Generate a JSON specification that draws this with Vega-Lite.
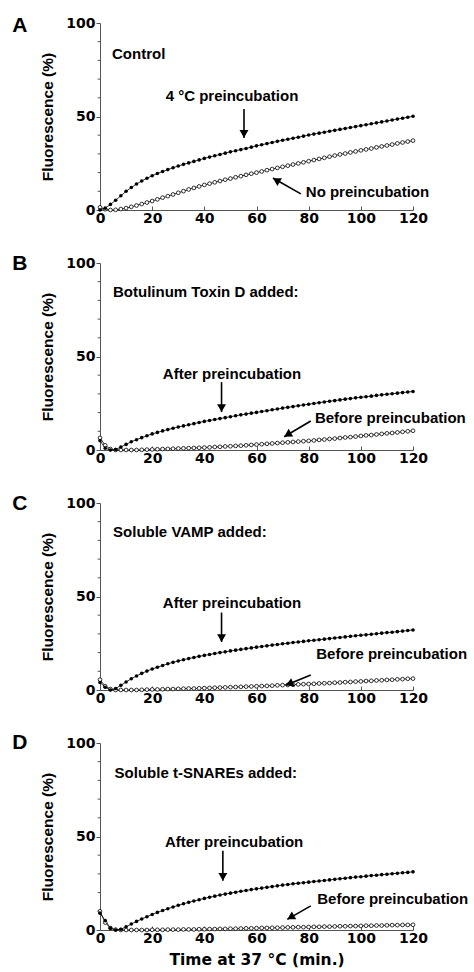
{
"$schema": "https://vega.github.io/schema/vega-lite/v6.json",
"background": "white",
"padding": {"left": 12, "top": 14, "right": 2, "bottom": 0},
"datasets": {
"series": [
{"p":"A","s":"f","x":0,"y":0},{"p":"A","s":"f","x":2,"y":1},{"p":"A","s":"f","x":4,"y":3},{"p":"A","s":"f","x":6,"y":5.2},{"p":"A","s":"f","x":8,"y":7.6},{"p":"A","s":"f","x":10,"y":10},{"p":"A","s":"f","x":12,"y":12},{"p":"A","s":"f","x":14,"y":13.9},{"p":"A","s":"f","x":16,"y":15.5},{"p":"A","s":"f","x":18,"y":17},{"p":"A","s":"f","x":20,"y":18.3},{"p":"A","s":"f","x":22,"y":19.5},{"p":"A","s":"f","x":24,"y":20.6},{"p":"A","s":"f","x":26,"y":21.6},{"p":"A","s":"f","x":28,"y":22.6},{"p":"A","s":"f","x":30,"y":23.5},{"p":"A","s":"f","x":32,"y":24.4},{"p":"A","s":"f","x":34,"y":25.2},{"p":"A","s":"f","x":36,"y":26},{"p":"A","s":"f","x":38,"y":26.8},{"p":"A","s":"f","x":40,"y":27.6},{"p":"A","s":"f","x":42,"y":28.3},{"p":"A","s":"f","x":44,"y":29},{"p":"A","s":"f","x":46,"y":29.7},{"p":"A","s":"f","x":48,"y":30.4},{"p":"A","s":"f","x":50,"y":31.1},{"p":"A","s":"f","x":52,"y":31.7},{"p":"A","s":"f","x":54,"y":32.3},{"p":"A","s":"f","x":56,"y":32.9},{"p":"A","s":"f","x":58,"y":33.6},{"p":"A","s":"f","x":60,"y":34.3},{"p":"A","s":"f","x":62,"y":34.9},{"p":"A","s":"f","x":64,"y":35.5},{"p":"A","s":"f","x":66,"y":36.1},{"p":"A","s":"f","x":68,"y":36.7},{"p":"A","s":"f","x":70,"y":37.3},{"p":"A","s":"f","x":72,"y":37.8},{"p":"A","s":"f","x":74,"y":38.4},{"p":"A","s":"f","x":76,"y":38.9},{"p":"A","s":"f","x":78,"y":39.5},{"p":"A","s":"f","x":80,"y":40.1},{"p":"A","s":"f","x":82,"y":40.6},{"p":"A","s":"f","x":84,"y":41.1},{"p":"A","s":"f","x":86,"y":41.6},{"p":"A","s":"f","x":88,"y":42.1},{"p":"A","s":"f","x":90,"y":42.6},{"p":"A","s":"f","x":92,"y":43.1},{"p":"A","s":"f","x":94,"y":43.6},{"p":"A","s":"f","x":96,"y":44.1},{"p":"A","s":"f","x":98,"y":44.6},{"p":"A","s":"f","x":100,"y":45.1},{"p":"A","s":"f","x":102,"y":45.6},{"p":"A","s":"f","x":104,"y":46.1},{"p":"A","s":"f","x":106,"y":46.6},{"p":"A","s":"f","x":108,"y":47.1},{"p":"A","s":"f","x":110,"y":47.6},{"p":"A","s":"f","x":112,"y":48.1},{"p":"A","s":"f","x":114,"y":48.6},{"p":"A","s":"f","x":116,"y":49.1},{"p":"A","s":"f","x":118,"y":49.6},{"p":"A","s":"f","x":120,"y":50.1},
{"p":"A","s":"o","x":0,"y":1.4},{"p":"A","s":"o","x":2,"y":0.4},{"p":"A","s":"o","x":4,"y":0},{"p":"A","s":"o","x":6,"y":0.1},{"p":"A","s":"o","x":8,"y":0.5},{"p":"A","s":"o","x":10,"y":1},{"p":"A","s":"o","x":12,"y":1.7},{"p":"A","s":"o","x":14,"y":2.4},{"p":"A","s":"o","x":16,"y":3.2},{"p":"A","s":"o","x":18,"y":4},{"p":"A","s":"o","x":20,"y":4.8},{"p":"A","s":"o","x":22,"y":5.7},{"p":"A","s":"o","x":24,"y":6.6},{"p":"A","s":"o","x":26,"y":7.4},{"p":"A","s":"o","x":28,"y":8.3},{"p":"A","s":"o","x":30,"y":9.2},{"p":"A","s":"o","x":32,"y":10.1},{"p":"A","s":"o","x":34,"y":11},{"p":"A","s":"o","x":36,"y":11.8},{"p":"A","s":"o","x":38,"y":12.6},{"p":"A","s":"o","x":40,"y":13.4},{"p":"A","s":"o","x":42,"y":14.1},{"p":"A","s":"o","x":44,"y":14.8},{"p":"A","s":"o","x":46,"y":15.5},{"p":"A","s":"o","x":48,"y":16.2},{"p":"A","s":"o","x":50,"y":16.8},{"p":"A","s":"o","x":52,"y":17.5},{"p":"A","s":"o","x":54,"y":18.1},{"p":"A","s":"o","x":56,"y":18.8},{"p":"A","s":"o","x":58,"y":19.4},{"p":"A","s":"o","x":60,"y":20},{"p":"A","s":"o","x":62,"y":20.6},{"p":"A","s":"o","x":64,"y":21.3},{"p":"A","s":"o","x":66,"y":21.9},{"p":"A","s":"o","x":68,"y":22.5},{"p":"A","s":"o","x":70,"y":23.1},{"p":"A","s":"o","x":72,"y":23.7},{"p":"A","s":"o","x":74,"y":24.3},{"p":"A","s":"o","x":76,"y":24.9},{"p":"A","s":"o","x":78,"y":25.5},{"p":"A","s":"o","x":80,"y":26.1},{"p":"A","s":"o","x":82,"y":26.7},{"p":"A","s":"o","x":84,"y":27.3},{"p":"A","s":"o","x":86,"y":27.9},{"p":"A","s":"o","x":88,"y":28.5},{"p":"A","s":"o","x":90,"y":29.1},{"p":"A","s":"o","x":92,"y":29.7},{"p":"A","s":"o","x":94,"y":30.2},{"p":"A","s":"o","x":96,"y":30.8},{"p":"A","s":"o","x":98,"y":31.3},{"p":"A","s":"o","x":100,"y":31.9},{"p":"A","s":"o","x":102,"y":32.4},{"p":"A","s":"o","x":104,"y":32.9},{"p":"A","s":"o","x":106,"y":33.5},{"p":"A","s":"o","x":108,"y":34},{"p":"A","s":"o","x":110,"y":34.5},{"p":"A","s":"o","x":112,"y":35},{"p":"A","s":"o","x":114,"y":35.6},{"p":"A","s":"o","x":116,"y":36.1},{"p":"A","s":"o","x":118,"y":36.6},{"p":"A","s":"o","x":120,"y":37.1},
{"p":"B","s":"f","x":0,"y":5},{"p":"B","s":"f","x":2,"y":1},{"p":"B","s":"f","x":4,"y":0},{"p":"B","s":"f","x":6,"y":0.3},{"p":"B","s":"f","x":8,"y":1.6},{"p":"B","s":"f","x":10,"y":3},{"p":"B","s":"f","x":12,"y":4.4},{"p":"B","s":"f","x":14,"y":5.5},{"p":"B","s":"f","x":16,"y":6.6},{"p":"B","s":"f","x":18,"y":7.6},{"p":"B","s":"f","x":20,"y":8.6},{"p":"B","s":"f","x":22,"y":9.4},{"p":"B","s":"f","x":24,"y":10.2},{"p":"B","s":"f","x":26,"y":10.9},{"p":"B","s":"f","x":28,"y":11.6},{"p":"B","s":"f","x":30,"y":12.3},{"p":"B","s":"f","x":32,"y":12.9},{"p":"B","s":"f","x":34,"y":13.5},{"p":"B","s":"f","x":36,"y":14.1},{"p":"B","s":"f","x":38,"y":14.7},{"p":"B","s":"f","x":40,"y":15.3},{"p":"B","s":"f","x":42,"y":15.8},{"p":"B","s":"f","x":44,"y":16.3},{"p":"B","s":"f","x":46,"y":16.8},{"p":"B","s":"f","x":48,"y":17.3},{"p":"B","s":"f","x":50,"y":17.8},{"p":"B","s":"f","x":52,"y":18.3},{"p":"B","s":"f","x":54,"y":18.8},{"p":"B","s":"f","x":56,"y":19.2},{"p":"B","s":"f","x":58,"y":19.7},{"p":"B","s":"f","x":60,"y":20.1},{"p":"B","s":"f","x":62,"y":20.6},{"p":"B","s":"f","x":64,"y":21},{"p":"B","s":"f","x":66,"y":21.5},{"p":"B","s":"f","x":68,"y":21.9},{"p":"B","s":"f","x":70,"y":22.4},{"p":"B","s":"f","x":72,"y":22.8},{"p":"B","s":"f","x":74,"y":23.2},{"p":"B","s":"f","x":76,"y":23.7},{"p":"B","s":"f","x":78,"y":24.1},{"p":"B","s":"f","x":80,"y":24.5},{"p":"B","s":"f","x":82,"y":24.9},{"p":"B","s":"f","x":84,"y":25.3},{"p":"B","s":"f","x":86,"y":25.7},{"p":"B","s":"f","x":88,"y":26.1},{"p":"B","s":"f","x":90,"y":26.4},{"p":"B","s":"f","x":92,"y":26.8},{"p":"B","s":"f","x":94,"y":27.2},{"p":"B","s":"f","x":96,"y":27.5},{"p":"B","s":"f","x":98,"y":27.9},{"p":"B","s":"f","x":100,"y":28.2},{"p":"B","s":"f","x":102,"y":28.5},{"p":"B","s":"f","x":104,"y":28.8},{"p":"B","s":"f","x":106,"y":29.2},{"p":"B","s":"f","x":108,"y":29.5},{"p":"B","s":"f","x":110,"y":29.8},{"p":"B","s":"f","x":112,"y":30.1},{"p":"B","s":"f","x":114,"y":30.4},{"p":"B","s":"f","x":116,"y":30.7},{"p":"B","s":"f","x":118,"y":31},{"p":"B","s":"f","x":120,"y":31.3},
{"p":"B","s":"o","x":0,"y":6.5},{"p":"B","s":"o","x":2,"y":2.5},{"p":"B","s":"o","x":4,"y":0.5},{"p":"B","s":"o","x":6,"y":0},{"p":"B","s":"o","x":8,"y":0},{"p":"B","s":"o","x":10,"y":0},{"p":"B","s":"o","x":12,"y":0},{"p":"B","s":"o","x":14,"y":0},{"p":"B","s":"o","x":16,"y":0.1},{"p":"B","s":"o","x":18,"y":0.2},{"p":"B","s":"o","x":20,"y":0.3},{"p":"B","s":"o","x":22,"y":0.4},{"p":"B","s":"o","x":24,"y":0.5},{"p":"B","s":"o","x":26,"y":0.6},{"p":"B","s":"o","x":28,"y":0.7},{"p":"B","s":"o","x":30,"y":0.8},{"p":"B","s":"o","x":32,"y":0.9},{"p":"B","s":"o","x":34,"y":1},{"p":"B","s":"o","x":36,"y":1.1},{"p":"B","s":"o","x":38,"y":1.2},{"p":"B","s":"o","x":40,"y":1.3},{"p":"B","s":"o","x":42,"y":1.4},{"p":"B","s":"o","x":44,"y":1.6},{"p":"B","s":"o","x":46,"y":1.7},{"p":"B","s":"o","x":48,"y":1.9},{"p":"B","s":"o","x":50,"y":2},{"p":"B","s":"o","x":52,"y":2.2},{"p":"B","s":"o","x":54,"y":2.3},{"p":"B","s":"o","x":56,"y":2.5},{"p":"B","s":"o","x":58,"y":2.7},{"p":"B","s":"o","x":60,"y":2.9},{"p":"B","s":"o","x":62,"y":3.1},{"p":"B","s":"o","x":64,"y":3.3},{"p":"B","s":"o","x":66,"y":3.5},{"p":"B","s":"o","x":68,"y":3.7},{"p":"B","s":"o","x":70,"y":3.9},{"p":"B","s":"o","x":72,"y":4.1},{"p":"B","s":"o","x":74,"y":4.3},{"p":"B","s":"o","x":76,"y":4.5},{"p":"B","s":"o","x":78,"y":4.7},{"p":"B","s":"o","x":80,"y":4.9},{"p":"B","s":"o","x":82,"y":5.1},{"p":"B","s":"o","x":84,"y":5.4},{"p":"B","s":"o","x":86,"y":5.6},{"p":"B","s":"o","x":88,"y":5.9},{"p":"B","s":"o","x":90,"y":6.1},{"p":"B","s":"o","x":92,"y":6.4},{"p":"B","s":"o","x":94,"y":6.7},{"p":"B","s":"o","x":96,"y":6.9},{"p":"B","s":"o","x":98,"y":7.2},{"p":"B","s":"o","x":100,"y":7.5},{"p":"B","s":"o","x":102,"y":7.8},{"p":"B","s":"o","x":104,"y":8},{"p":"B","s":"o","x":106,"y":8.3},{"p":"B","s":"o","x":108,"y":8.6},{"p":"B","s":"o","x":110,"y":8.9},{"p":"B","s":"o","x":112,"y":9.1},{"p":"B","s":"o","x":114,"y":9.4},{"p":"B","s":"o","x":116,"y":9.7},{"p":"B","s":"o","x":118,"y":10},{"p":"B","s":"o","x":120,"y":10.3},
{"p":"C","s":"f","x":0,"y":4},{"p":"C","s":"f","x":2,"y":1.5},{"p":"C","s":"f","x":4,"y":0},{"p":"C","s":"f","x":6,"y":0.8},{"p":"C","s":"f","x":8,"y":2.5},{"p":"C","s":"f","x":10,"y":4.3},{"p":"C","s":"f","x":12,"y":6},{"p":"C","s":"f","x":14,"y":7.5},{"p":"C","s":"f","x":16,"y":8.9},{"p":"C","s":"f","x":18,"y":10.1},{"p":"C","s":"f","x":20,"y":11.2},{"p":"C","s":"f","x":22,"y":12.2},{"p":"C","s":"f","x":24,"y":13.1},{"p":"C","s":"f","x":26,"y":14},{"p":"C","s":"f","x":28,"y":14.8},{"p":"C","s":"f","x":30,"y":15.5},{"p":"C","s":"f","x":32,"y":16.2},{"p":"C","s":"f","x":34,"y":16.8},{"p":"C","s":"f","x":36,"y":17.4},{"p":"C","s":"f","x":38,"y":18},{"p":"C","s":"f","x":40,"y":18.5},{"p":"C","s":"f","x":42,"y":19},{"p":"C","s":"f","x":44,"y":19.5},{"p":"C","s":"f","x":46,"y":20},{"p":"C","s":"f","x":48,"y":20.4},{"p":"C","s":"f","x":50,"y":20.9},{"p":"C","s":"f","x":52,"y":21.3},{"p":"C","s":"f","x":54,"y":21.7},{"p":"C","s":"f","x":56,"y":22.1},{"p":"C","s":"f","x":58,"y":22.5},{"p":"C","s":"f","x":60,"y":22.9},{"p":"C","s":"f","x":62,"y":23.3},{"p":"C","s":"f","x":64,"y":23.6},{"p":"C","s":"f","x":66,"y":24},{"p":"C","s":"f","x":68,"y":24.3},{"p":"C","s":"f","x":70,"y":24.7},{"p":"C","s":"f","x":72,"y":25},{"p":"C","s":"f","x":74,"y":25.4},{"p":"C","s":"f","x":76,"y":25.7},{"p":"C","s":"f","x":78,"y":26},{"p":"C","s":"f","x":80,"y":26.3},{"p":"C","s":"f","x":82,"y":26.6},{"p":"C","s":"f","x":84,"y":26.9},{"p":"C","s":"f","x":86,"y":27.2},{"p":"C","s":"f","x":88,"y":27.5},{"p":"C","s":"f","x":90,"y":27.8},{"p":"C","s":"f","x":92,"y":28.1},{"p":"C","s":"f","x":94,"y":28.4},{"p":"C","s":"f","x":96,"y":28.7},{"p":"C","s":"f","x":98,"y":29},{"p":"C","s":"f","x":100,"y":29.3},{"p":"C","s":"f","x":102,"y":29.5},{"p":"C","s":"f","x":104,"y":29.8},{"p":"C","s":"f","x":106,"y":30.1},{"p":"C","s":"f","x":108,"y":30.4},{"p":"C","s":"f","x":110,"y":30.7},{"p":"C","s":"f","x":112,"y":30.9},{"p":"C","s":"f","x":114,"y":31.2},{"p":"C","s":"f","x":116,"y":31.5},{"p":"C","s":"f","x":118,"y":31.8},{"p":"C","s":"f","x":120,"y":32.1},
{"p":"C","s":"o","x":0,"y":5.5},{"p":"C","s":"o","x":2,"y":2},{"p":"C","s":"o","x":4,"y":0.5},{"p":"C","s":"o","x":6,"y":0},{"p":"C","s":"o","x":8,"y":0},{"p":"C","s":"o","x":10,"y":0},{"p":"C","s":"o","x":12,"y":0},{"p":"C","s":"o","x":14,"y":0},{"p":"C","s":"o","x":16,"y":0.1},{"p":"C","s":"o","x":18,"y":0.2},{"p":"C","s":"o","x":20,"y":0.3},{"p":"C","s":"o","x":22,"y":0.3},{"p":"C","s":"o","x":24,"y":0.4},{"p":"C","s":"o","x":26,"y":0.5},{"p":"C","s":"o","x":28,"y":0.5},{"p":"C","s":"o","x":30,"y":0.6},{"p":"C","s":"o","x":32,"y":0.7},{"p":"C","s":"o","x":34,"y":0.8},{"p":"C","s":"o","x":36,"y":0.8},{"p":"C","s":"o","x":38,"y":0.9},{"p":"C","s":"o","x":40,"y":1},{"p":"C","s":"o","x":42,"y":1.1},{"p":"C","s":"o","x":44,"y":1.2},{"p":"C","s":"o","x":46,"y":1.3},{"p":"C","s":"o","x":48,"y":1.4},{"p":"C","s":"o","x":50,"y":1.5},{"p":"C","s":"o","x":52,"y":1.6},{"p":"C","s":"o","x":54,"y":1.7},{"p":"C","s":"o","x":56,"y":1.8},{"p":"C","s":"o","x":58,"y":1.9},{"p":"C","s":"o","x":60,"y":2},{"p":"C","s":"o","x":62,"y":2.1},{"p":"C","s":"o","x":64,"y":2.2},{"p":"C","s":"o","x":66,"y":2.3},{"p":"C","s":"o","x":68,"y":2.5},{"p":"C","s":"o","x":70,"y":2.6},{"p":"C","s":"o","x":72,"y":2.7},{"p":"C","s":"o","x":74,"y":2.8},{"p":"C","s":"o","x":76,"y":3},{"p":"C","s":"o","x":78,"y":3.1},{"p":"C","s":"o","x":80,"y":3.2},{"p":"C","s":"o","x":82,"y":3.3},{"p":"C","s":"o","x":84,"y":3.5},{"p":"C","s":"o","x":86,"y":3.6},{"p":"C","s":"o","x":88,"y":3.7},{"p":"C","s":"o","x":90,"y":3.9},{"p":"C","s":"o","x":92,"y":4},{"p":"C","s":"o","x":94,"y":4.2},{"p":"C","s":"o","x":96,"y":4.3},{"p":"C","s":"o","x":98,"y":4.5},{"p":"C","s":"o","x":100,"y":4.6},{"p":"C","s":"o","x":102,"y":4.8},{"p":"C","s":"o","x":104,"y":4.9},{"p":"C","s":"o","x":106,"y":5.1},{"p":"C","s":"o","x":108,"y":5.2},{"p":"C","s":"o","x":110,"y":5.4},{"p":"C","s":"o","x":112,"y":5.5},{"p":"C","s":"o","x":114,"y":5.7},{"p":"C","s":"o","x":116,"y":5.8},{"p":"C","s":"o","x":118,"y":6},{"p":"C","s":"o","x":120,"y":6.1},
{"p":"D","s":"f","x":0,"y":9},{"p":"D","s":"f","x":2,"y":5},{"p":"D","s":"f","x":4,"y":1},{"p":"D","s":"f","x":6,"y":0},{"p":"D","s":"f","x":8,"y":0.4},{"p":"D","s":"f","x":10,"y":1.7},{"p":"D","s":"f","x":12,"y":3.2},{"p":"D","s":"f","x":14,"y":4.6},{"p":"D","s":"f","x":16,"y":5.9},{"p":"D","s":"f","x":18,"y":7.1},{"p":"D","s":"f","x":20,"y":8.3},{"p":"D","s":"f","x":22,"y":9.4},{"p":"D","s":"f","x":24,"y":10.4},{"p":"D","s":"f","x":26,"y":11.4},{"p":"D","s":"f","x":28,"y":12.3},{"p":"D","s":"f","x":30,"y":13.2},{"p":"D","s":"f","x":32,"y":14},{"p":"D","s":"f","x":34,"y":14.8},{"p":"D","s":"f","x":36,"y":15.5},{"p":"D","s":"f","x":38,"y":16.2},{"p":"D","s":"f","x":40,"y":16.9},{"p":"D","s":"f","x":42,"y":17.5},{"p":"D","s":"f","x":44,"y":18.1},{"p":"D","s":"f","x":46,"y":18.7},{"p":"D","s":"f","x":48,"y":19.2},{"p":"D","s":"f","x":50,"y":19.7},{"p":"D","s":"f","x":52,"y":20.2},{"p":"D","s":"f","x":54,"y":20.7},{"p":"D","s":"f","x":56,"y":21.1},{"p":"D","s":"f","x":58,"y":21.6},{"p":"D","s":"f","x":60,"y":22},{"p":"D","s":"f","x":62,"y":22.4},{"p":"D","s":"f","x":64,"y":22.8},{"p":"D","s":"f","x":66,"y":23.2},{"p":"D","s":"f","x":68,"y":23.6},{"p":"D","s":"f","x":70,"y":24},{"p":"D","s":"f","x":72,"y":24.3},{"p":"D","s":"f","x":74,"y":24.7},{"p":"D","s":"f","x":76,"y":25},{"p":"D","s":"f","x":78,"y":25.3},{"p":"D","s":"f","x":80,"y":25.6},{"p":"D","s":"f","x":82,"y":25.9},{"p":"D","s":"f","x":84,"y":26.2},{"p":"D","s":"f","x":86,"y":26.5},{"p":"D","s":"f","x":88,"y":26.8},{"p":"D","s":"f","x":90,"y":27.1},{"p":"D","s":"f","x":92,"y":27.4},{"p":"D","s":"f","x":94,"y":27.7},{"p":"D","s":"f","x":96,"y":28},{"p":"D","s":"f","x":98,"y":28.3},{"p":"D","s":"f","x":100,"y":28.5},{"p":"D","s":"f","x":102,"y":28.8},{"p":"D","s":"f","x":104,"y":29.1},{"p":"D","s":"f","x":106,"y":29.3},{"p":"D","s":"f","x":108,"y":29.6},{"p":"D","s":"f","x":110,"y":29.8},{"p":"D","s":"f","x":112,"y":30.1},{"p":"D","s":"f","x":114,"y":30.3},{"p":"D","s":"f","x":116,"y":30.6},{"p":"D","s":"f","x":118,"y":30.8},{"p":"D","s":"f","x":120,"y":31.1},
{"p":"D","s":"o","x":0,"y":10},{"p":"D","s":"o","x":2,"y":4},{"p":"D","s":"o","x":4,"y":1},{"p":"D","s":"o","x":6,"y":0.2},{"p":"D","s":"o","x":8,"y":0},{"p":"D","s":"o","x":10,"y":0},{"p":"D","s":"o","x":12,"y":0},{"p":"D","s":"o","x":14,"y":0},{"p":"D","s":"o","x":16,"y":0},{"p":"D","s":"o","x":18,"y":0},{"p":"D","s":"o","x":20,"y":0.1},{"p":"D","s":"o","x":22,"y":0.1},{"p":"D","s":"o","x":24,"y":0.1},{"p":"D","s":"o","x":26,"y":0.2},{"p":"D","s":"o","x":28,"y":0.2},{"p":"D","s":"o","x":30,"y":0.2},{"p":"D","s":"o","x":32,"y":0.3},{"p":"D","s":"o","x":34,"y":0.3},{"p":"D","s":"o","x":36,"y":0.3},{"p":"D","s":"o","x":38,"y":0.4},{"p":"D","s":"o","x":40,"y":0.4},{"p":"D","s":"o","x":42,"y":0.5},{"p":"D","s":"o","x":44,"y":0.5},{"p":"D","s":"o","x":46,"y":0.6},{"p":"D","s":"o","x":48,"y":0.6},{"p":"D","s":"o","x":50,"y":0.7},{"p":"D","s":"o","x":52,"y":0.7},{"p":"D","s":"o","x":54,"y":0.8},{"p":"D","s":"o","x":56,"y":0.9},{"p":"D","s":"o","x":58,"y":0.9},{"p":"D","s":"o","x":60,"y":1},{"p":"D","s":"o","x":62,"y":1.1},{"p":"D","s":"o","x":64,"y":1.1},{"p":"D","s":"o","x":66,"y":1.2},{"p":"D","s":"o","x":68,"y":1.2},{"p":"D","s":"o","x":70,"y":1.3},{"p":"D","s":"o","x":72,"y":1.4},{"p":"D","s":"o","x":74,"y":1.4},{"p":"D","s":"o","x":76,"y":1.5},{"p":"D","s":"o","x":78,"y":1.5},{"p":"D","s":"o","x":80,"y":1.6},{"p":"D","s":"o","x":82,"y":1.7},{"p":"D","s":"o","x":84,"y":1.7},{"p":"D","s":"o","x":86,"y":1.8},{"p":"D","s":"o","x":88,"y":1.8},{"p":"D","s":"o","x":90,"y":1.9},{"p":"D","s":"o","x":92,"y":2},{"p":"D","s":"o","x":94,"y":2},{"p":"D","s":"o","x":96,"y":2.1},{"p":"D","s":"o","x":98,"y":2.1},{"p":"D","s":"o","x":100,"y":2.2},{"p":"D","s":"o","x":102,"y":2.3},{"p":"D","s":"o","x":104,"y":2.3},{"p":"D","s":"o","x":106,"y":2.4},{"p":"D","s":"o","x":108,"y":2.4},{"p":"D","s":"o","x":110,"y":2.5},{"p":"D","s":"o","x":112,"y":2.6},{"p":"D","s":"o","x":114,"y":2.6},{"p":"D","s":"o","x":116,"y":2.7},{"p":"D","s":"o","x":118,"y":2.7},{"p":"D","s":"o","x":120,"y":2.8}
],
"yminor": [{"v":10},{"v":20},{"v":30},{"v":40},{"v":60},{"v":70},{"v":80},{"v":90}],
"notes": [
{"p":"A","k":"letter","x":-30.7,"y":95.2,"t":"A"},
{"p":"B","k":"letter","x":-30.7,"y":96.2,"t":"B"},
{"p":"C","k":"letter","x":-30.7,"y":96.5,"t":"C"},
{"p":"D","k":"letter","x":-30.7,"y":96.6,"t":"D"},
{"p":"A","k":"left","x":4.6,"y":81,"t":"Control"},
{"p":"B","k":"left","x":5,"y":81.7,"t":"Botulinum Toxin D added:"},
{"p":"C","k":"left","x":5,"y":82,"t":"Soluble VAMP added:"},
{"p":"D","k":"left","x":5.6,"y":81.2,"t":"Soluble t-SNAREs added:"},
{"p":"A","k":"center","x":50.6,"y":58.3,"t":"4 °C preincubation"},
{"p":"B","k":"center","x":50.6,"y":38.2,"t":"After preincubation"},
{"p":"C","k":"center","x":50.6,"y":43.6,"t":"After preincubation"},
{"p":"D","k":"center","x":51.4,"y":44.2,"t":"After preincubation"},
{"p":"A","k":"left","x":78.9,"y":7,"t":"No preincubation"},
{"p":"B","k":"left","x":82.4,"y":14.6,"t":"Before preincubation"},
{"p":"C","k":"left","x":82.9,"y":16.4,"t":"Before preincubation"},
{"p":"D","k":"left","x":83.3,"y":13.7,"t":"Before preincubation"}
],
"arrows": [
{"p":"A","k":"down","x1":55.2,"y1":54,"x2":55.2,"y2":38.5,"hx":55.2,"hy":40.7},
{"p":"A","k":"diag","x1":77,"y1":8.6,"x2":66.3,"y2":17.1,"hx":67.6,"hy":16},
{"p":"B","k":"down","x1":46.6,"y1":36.3,"x2":46.6,"y2":20.3,"hx":46.6,"hy":22.4},
{"p":"B","k":"diag","x1":80.8,"y1":15.5,"x2":70.6,"y2":7.1,"hx":71.9,"hy":8.2},
{"p":"C","k":"down","x1":46.6,"y1":41.4,"x2":46.6,"y2":25.7,"hx":46.6,"hy":27.8},
{"p":"C","k":"diag","x1":80.8,"y1":8,"x2":71.2,"y2":2.5,"hx":72.6,"hy":3.3},
{"p":"D","k":"down","x1":47.1,"y1":42.4,"x2":47.1,"y2":26.3,"hx":47.1,"hy":28.4},
{"p":"D","k":"diag","x1":80.8,"y1":12.9,"x2":71.8,"y2":5.7,"hx":73.1,"hy":6.8}
]
},
"config": {
"view": {"stroke": null},
"axis": {"grid": false, "labelOverlap": false, "domainColor": "#555", "tickColor": "#555", "labelFont": "DejaVu Sans", "labelFontWeight": "bold", "labelFontSize": 14, "labelColor": "black", "titleFont": "Liberation Sans", "titleFontWeight": "bold", "titleFontSize": 15.5, "titleColor": "black"},
"axisX": {"tickSize": -4, "labelPadding": 5, "labelFlush": false, "titlePadding": 2},
"axisY": {"tickSize": 4, "labelPadding": 1, "titlePadding": 10}
},
"spacing": 53,
"bounds": "flush",
"vconcat": [
{
"width": 313, "height": 187,
"layer": [
{"data": {"name": "series"}, "transform": [{"filter": "datum.p === 'A'"}], "mark": {"type": "line", "color": "black", "strokeWidth": 0.8},
 "encoding": {"x": {"field": "x", "type": "quantitative", "scale": {"domain": [0, 120], "nice": false}, "axis": {"values": [0,10,20,30,40,50,60,70,80,90,100,110,120], "labelOverlap": false, "labelExpr": "datum.value % 20 === 0 ? datum.label : ''", "title": null}},
 "y": {"field": "y", "type": "quantitative", "scale": {"domain": [0, 100], "nice": false}, "axis": {"values": [0,50,100], "labelOverlap": false, "title": "Fluorescence (%)"}}, "detail": {"field": "s"}}},
{"data": {"name": "yminor"}, "mark": {"type": "rule", "color": "#555", "strokeWidth": 1},
 "encoding": {"y": {"field": "v", "type": "quantitative"}, "x": {"datum": -0.9}, "x2": {"datum": 0}}},
{"data": {"name": "series"}, "transform": [{"filter": "datum.p === 'A' && datum.s === 'o'"}], "mark": {"type": "point", "shape": "circle", "filled": true, "fill": "white", "stroke": "black", "strokeWidth": 0.8, "size": 14, "opacity": 1},
 "encoding": {"x": {"field": "x", "type": "quantitative"}, "y": {"field": "y", "type": "quantitative"}}},
{"data": {"name": "series"}, "transform": [{"filter": "datum.p === 'A' && datum.s === 'f'"}], "mark": {"type": "point", "shape": "circle", "filled": true, "color": "black", "size": 13, "opacity": 1},
 "encoding": {"x": {"field": "x", "type": "quantitative"}, "y": {"field": "y", "type": "quantitative"}}},
{"data": {"name": "arrows"}, "transform": [{"filter": "datum.p === 'A'"}], "mark": {"type": "rule", "color": "black", "strokeWidth": 1.6},
 "encoding": {"x": {"field": "x1", "type": "quantitative"}, "y": {"field": "y1", "type": "quantitative"}, "x2": {"field": "x2"}, "y2": {"field": "y2"}}},
{"data": {"name": "arrows"}, "transform": [{"filter": "datum.p === 'A' && datum.k === 'down'"}], "mark": {"type": "point", "shape": "triangle-down", "filled": true, "color": "black", "size": 80, "opacity": 1},
 "encoding": {"x": {"field": "hx", "type": "quantitative"}, "y": {"field": "hy", "type": "quantitative"}}},
{"data": {"name": "arrows"}, "transform": [{"filter": "datum.p === 'A' && datum.k === 'diag'"}], "mark": {"type": "point", "shape": "triangle-up", "angle": 300, "filled": true, "color": "black", "size": 80, "opacity": 1},
 "encoding": {"x": {"field": "hx", "type": "quantitative"}, "y": {"field": "hy", "type": "quantitative"}}},
{"data": {"name": "notes"}, "transform": [{"filter": "datum.p === 'A' && datum.k === 'letter'"}], "mark": {"type": "text", "font": "Liberation Sans", "fontWeight": "bold", "fontSize": 21, "align": "center", "baseline": "alphabetic", "color": "black"},
 "encoding": {"x": {"field": "x", "type": "quantitative"}, "y": {"field": "y", "type": "quantitative"}, "text": {"field": "t"}}},
{"data": {"name": "notes"}, "transform": [{"filter": "datum.p === 'A' && datum.k === 'left'"}], "mark": {"type": "text", "font": "Liberation Sans", "fontWeight": "bold", "fontSize": 15, "align": "left", "baseline": "alphabetic", "color": "black"},
 "encoding": {"x": {"field": "x", "type": "quantitative"}, "y": {"field": "y", "type": "quantitative"}, "text": {"field": "t"}}},
{"data": {"name": "notes"}, "transform": [{"filter": "datum.p === 'A' && datum.k === 'center'"}], "mark": {"type": "text", "font": "Liberation Sans", "fontWeight": "bold", "fontSize": 15, "align": "center", "baseline": "alphabetic", "color": "black"},
 "encoding": {"x": {"field": "x", "type": "quantitative"}, "y": {"field": "y", "type": "quantitative"}, "text": {"field": "t"}}}
]
},
{
"width": 313, "height": 187,
"layer": [
{"data": {"name": "series"}, "transform": [{"filter": "datum.p === 'B'"}], "mark": {"type": "line", "color": "black", "strokeWidth": 0.8},
 "encoding": {"x": {"field": "x", "type": "quantitative", "scale": {"domain": [0, 120], "nice": false}, "axis": {"values": [0,10,20,30,40,50,60,70,80,90,100,110,120], "labelOverlap": false, "labelExpr": "datum.value % 20 === 0 ? datum.label : ''", "title": null}},
 "y": {"field": "y", "type": "quantitative", "scale": {"domain": [0, 100], "nice": false}, "axis": {"values": [0,50,100], "labelOverlap": false, "title": "Fluorescence (%)"}}, "detail": {"field": "s"}}},
{"data": {"name": "yminor"}, "mark": {"type": "rule", "color": "#555", "strokeWidth": 1},
 "encoding": {"y": {"field": "v", "type": "quantitative"}, "x": {"datum": -0.9}, "x2": {"datum": 0}}},
{"data": {"name": "series"}, "transform": [{"filter": "datum.p === 'B' && datum.s === 'o'"}], "mark": {"type": "point", "shape": "circle", "filled": true, "fill": "white", "stroke": "black", "strokeWidth": 0.8, "size": 14, "opacity": 1},
 "encoding": {"x": {"field": "x", "type": "quantitative"}, "y": {"field": "y", "type": "quantitative"}}},
{"data": {"name": "series"}, "transform": [{"filter": "datum.p === 'B' && datum.s === 'f'"}], "mark": {"type": "point", "shape": "circle", "filled": true, "color": "black", "size": 13, "opacity": 1},
 "encoding": {"x": {"field": "x", "type": "quantitative"}, "y": {"field": "y", "type": "quantitative"}}},
{"data": {"name": "arrows"}, "transform": [{"filter": "datum.p === 'B'"}], "mark": {"type": "rule", "color": "black", "strokeWidth": 1.6},
 "encoding": {"x": {"field": "x1", "type": "quantitative"}, "y": {"field": "y1", "type": "quantitative"}, "x2": {"field": "x2"}, "y2": {"field": "y2"}}},
{"data": {"name": "arrows"}, "transform": [{"filter": "datum.p === 'B' && datum.k === 'down'"}], "mark": {"type": "point", "shape": "triangle-down", "filled": true, "color": "black", "size": 80, "opacity": 1},
 "encoding": {"x": {"field": "hx", "type": "quantitative"}, "y": {"field": "hy", "type": "quantitative"}}},
{"data": {"name": "arrows"}, "transform": [{"filter": "datum.p === 'B' && datum.k === 'diag'"}], "mark": {"type": "point", "shape": "triangle-up", "angle": 239.5, "filled": true, "color": "black", "size": 80, "opacity": 1},
 "encoding": {"x": {"field": "hx", "type": "quantitative"}, "y": {"field": "hy", "type": "quantitative"}}},
{"data": {"name": "notes"}, "transform": [{"filter": "datum.p === 'B' && datum.k === 'letter'"}], "mark": {"type": "text", "font": "Liberation Sans", "fontWeight": "bold", "fontSize": 21, "align": "center", "baseline": "alphabetic", "color": "black"},
 "encoding": {"x": {"field": "x", "type": "quantitative"}, "y": {"field": "y", "type": "quantitative"}, "text": {"field": "t"}}},
{"data": {"name": "notes"}, "transform": [{"filter": "datum.p === 'B' && datum.k === 'left'"}], "mark": {"type": "text", "font": "Liberation Sans", "fontWeight": "bold", "fontSize": 15, "align": "left", "baseline": "alphabetic", "color": "black"},
 "encoding": {"x": {"field": "x", "type": "quantitative"}, "y": {"field": "y", "type": "quantitative"}, "text": {"field": "t"}}},
{"data": {"name": "notes"}, "transform": [{"filter": "datum.p === 'B' && datum.k === 'center'"}], "mark": {"type": "text", "font": "Liberation Sans", "fontWeight": "bold", "fontSize": 15, "align": "center", "baseline": "alphabetic", "color": "black"},
 "encoding": {"x": {"field": "x", "type": "quantitative"}, "y": {"field": "y", "type": "quantitative"}, "text": {"field": "t"}}}
]
},
{
"width": 313, "height": 187,
"layer": [
{"data": {"name": "series"}, "transform": [{"filter": "datum.p === 'C'"}], "mark": {"type": "line", "color": "black", "strokeWidth": 0.8},
 "encoding": {"x": {"field": "x", "type": "quantitative", "scale": {"domain": [0, 120], "nice": false}, "axis": {"values": [0,10,20,30,40,50,60,70,80,90,100,110,120], "labelOverlap": false, "labelExpr": "datum.value % 20 === 0 ? datum.label : ''", "title": null}},
 "y": {"field": "y", "type": "quantitative", "scale": {"domain": [0, 100], "nice": false}, "axis": {"values": [0,50,100], "labelOverlap": false, "title": "Fluorescence (%)"}}, "detail": {"field": "s"}}},
{"data": {"name": "yminor"}, "mark": {"type": "rule", "color": "#555", "strokeWidth": 1},
 "encoding": {"y": {"field": "v", "type": "quantitative"}, "x": {"datum": -0.9}, "x2": {"datum": 0}}},
{"data": {"name": "series"}, "transform": [{"filter": "datum.p === 'C' && datum.s === 'o'"}], "mark": {"type": "point", "shape": "circle", "filled": true, "fill": "white", "stroke": "black", "strokeWidth": 0.8, "size": 14, "opacity": 1},
 "encoding": {"x": {"field": "x", "type": "quantitative"}, "y": {"field": "y", "type": "quantitative"}}},
{"data": {"name": "series"}, "transform": [{"filter": "datum.p === 'C' && datum.s === 'f'"}], "mark": {"type": "point", "shape": "circle", "filled": true, "color": "black", "size": 13, "opacity": 1},
 "encoding": {"x": {"field": "x", "type": "quantitative"}, "y": {"field": "y", "type": "quantitative"}}},
{"data": {"name": "arrows"}, "transform": [{"filter": "datum.p === 'C'"}], "mark": {"type": "rule", "color": "black", "strokeWidth": 1.6},
 "encoding": {"x": {"field": "x1", "type": "quantitative"}, "y": {"field": "y1", "type": "quantitative"}, "x2": {"field": "x2"}, "y2": {"field": "y2"}}},
{"data": {"name": "arrows"}, "transform": [{"filter": "datum.p === 'C' && datum.k === 'down'"}], "mark": {"type": "point", "shape": "triangle-down", "filled": true, "color": "black", "size": 80, "opacity": 1},
 "encoding": {"x": {"field": "hx", "type": "quantitative"}, "y": {"field": "hy", "type": "quantitative"}}},
{"data": {"name": "arrows"}, "transform": [{"filter": "datum.p === 'C' && datum.k === 'diag'"}], "mark": {"type": "point", "shape": "triangle-up", "angle": 247.6, "filled": true, "color": "black", "size": 80, "opacity": 1},
 "encoding": {"x": {"field": "hx", "type": "quantitative"}, "y": {"field": "hy", "type": "quantitative"}}},
{"data": {"name": "notes"}, "transform": [{"filter": "datum.p === 'C' && datum.k === 'letter'"}], "mark": {"type": "text", "font": "Liberation Sans", "fontWeight": "bold", "fontSize": 21, "align": "center", "baseline": "alphabetic", "color": "black"},
 "encoding": {"x": {"field": "x", "type": "quantitative"}, "y": {"field": "y", "type": "quantitative"}, "text": {"field": "t"}}},
{"data": {"name": "notes"}, "transform": [{"filter": "datum.p === 'C' && datum.k === 'left'"}], "mark": {"type": "text", "font": "Liberation Sans", "fontWeight": "bold", "fontSize": 15, "align": "left", "baseline": "alphabetic", "color": "black"},
 "encoding": {"x": {"field": "x", "type": "quantitative"}, "y": {"field": "y", "type": "quantitative"}, "text": {"field": "t"}}},
{"data": {"name": "notes"}, "transform": [{"filter": "datum.p === 'C' && datum.k === 'center'"}], "mark": {"type": "text", "font": "Liberation Sans", "fontWeight": "bold", "fontSize": 15, "align": "center", "baseline": "alphabetic", "color": "black"},
 "encoding": {"x": {"field": "x", "type": "quantitative"}, "y": {"field": "y", "type": "quantitative"}, "text": {"field": "t"}}}
]
},
{
"width": 313, "height": 187,
"layer": [
{"data": {"name": "series"}, "transform": [{"filter": "datum.p === 'D'"}], "mark": {"type": "line", "color": "black", "strokeWidth": 0.8},
 "encoding": {"x": {"field": "x", "type": "quantitative", "scale": {"domain": [0, 120], "nice": false}, "axis": {"values": [0,10,20,30,40,50,60,70,80,90,100,110,120], "labelOverlap": false, "labelExpr": "datum.value % 20 === 0 ? datum.label : ''", "title": "Time at 37 °C (min.)", "titleFont": "DejaVu Sans", "titleFontSize": 15.5, "titlePadding": 7}},
 "y": {"field": "y", "type": "quantitative", "scale": {"domain": [0, 100], "nice": false}, "axis": {"values": [0,50,100], "labelOverlap": false, "title": "Fluorescence (%)"}}, "detail": {"field": "s"}}},
{"data": {"name": "yminor"}, "mark": {"type": "rule", "color": "#555", "strokeWidth": 1},
 "encoding": {"y": {"field": "v", "type": "quantitative"}, "x": {"datum": -0.9}, "x2": {"datum": 0}}},
{"data": {"name": "series"}, "transform": [{"filter": "datum.p === 'D' && datum.s === 'o'"}], "mark": {"type": "point", "shape": "circle", "filled": true, "fill": "white", "stroke": "black", "strokeWidth": 0.8, "size": 14, "opacity": 1},
 "encoding": {"x": {"field": "x", "type": "quantitative"}, "y": {"field": "y", "type": "quantitative"}}},
{"data": {"name": "series"}, "transform": [{"filter": "datum.p === 'D' && datum.s === 'f'"}], "mark": {"type": "point", "shape": "circle", "filled": true, "color": "black", "size": 13, "opacity": 1},
 "encoding": {"x": {"field": "x", "type": "quantitative"}, "y": {"field": "y", "type": "quantitative"}}},
{"data": {"name": "arrows"}, "transform": [{"filter": "datum.p === 'D'"}], "mark": {"type": "rule", "color": "black", "strokeWidth": 1.6},
 "encoding": {"x": {"field": "x1", "type": "quantitative"}, "y": {"field": "y1", "type": "quantitative"}, "x2": {"field": "x2"}, "y2": {"field": "y2"}}},
{"data": {"name": "arrows"}, "transform": [{"filter": "datum.p === 'D' && datum.k === 'down'"}], "mark": {"type": "point", "shape": "triangle-down", "filled": true, "color": "black", "size": 80, "opacity": 1},
 "encoding": {"x": {"field": "hx", "type": "quantitative"}, "y": {"field": "hy", "type": "quantitative"}}},
{"data": {"name": "arrows"}, "transform": [{"filter": "datum.p === 'D' && datum.k === 'diag'"}], "mark": {"type": "point", "shape": "triangle-up", "angle": 240.3, "filled": true, "color": "black", "size": 80, "opacity": 1},
 "encoding": {"x": {"field": "hx", "type": "quantitative"}, "y": {"field": "hy", "type": "quantitative"}}},
{"data": {"name": "notes"}, "transform": [{"filter": "datum.p === 'D' && datum.k === 'letter'"}], "mark": {"type": "text", "font": "Liberation Sans", "fontWeight": "bold", "fontSize": 21, "align": "center", "baseline": "alphabetic", "color": "black"},
 "encoding": {"x": {"field": "x", "type": "quantitative"}, "y": {"field": "y", "type": "quantitative"}, "text": {"field": "t"}}},
{"data": {"name": "notes"}, "transform": [{"filter": "datum.p === 'D' && datum.k === 'left'"}], "mark": {"type": "text", "font": "Liberation Sans", "fontWeight": "bold", "fontSize": 15, "align": "left", "baseline": "alphabetic", "color": "black"},
 "encoding": {"x": {"field": "x", "type": "quantitative"}, "y": {"field": "y", "type": "quantitative"}, "text": {"field": "t"}}},
{"data": {"name": "notes"}, "transform": [{"filter": "datum.p === 'D' && datum.k === 'center'"}], "mark": {"type": "text", "font": "Liberation Sans", "fontWeight": "bold", "fontSize": 15, "align": "center", "baseline": "alphabetic", "color": "black"},
 "encoding": {"x": {"field": "x", "type": "quantitative"}, "y": {"field": "y", "type": "quantitative"}, "text": {"field": "t"}}}
]
}
]
}
